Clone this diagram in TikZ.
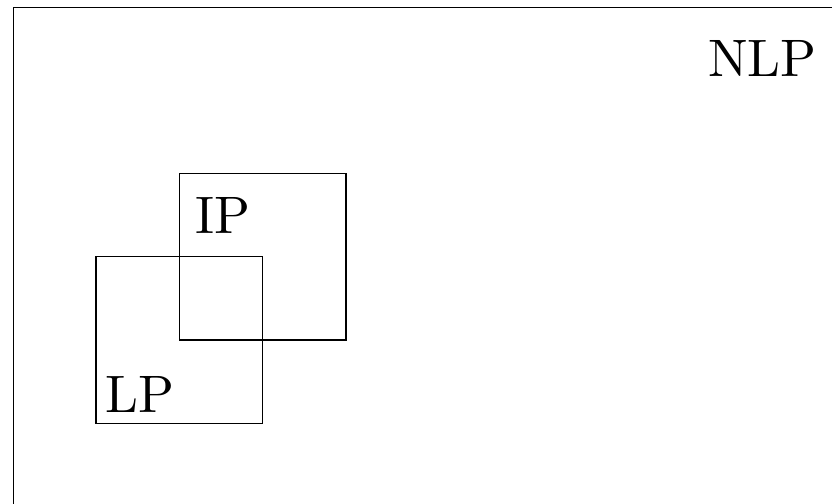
\documentclass[tikz,border=0pt]{standalone}
\begin{document}
\begin{tikzpicture}[
  box/.style={draw, line width=0.55pt},
  lbl/.style={anchor=base west, inner sep=0pt, scale=1.8, transform shape, font=\fontsize{10}{12}\selectfont}
]
\useasboundingbox (0,0) rectangle (9.984,6.036);
\clip (0,0) rectangle (9.984,6.036);
\draw[box] (0.162,-1) rectangle (11,5.946);
\draw[box] (1.152,0.956) rectangle (3.152,2.956);
\draw[box] (2.152,1.956) rectangle (4.152,3.956);
\node[lbl] (nlp) at (8.484,5.112) {NLP};
\node[lbl] (ip) at (2.328,3.228) {IP};
\node[lbl] (lp) at (1.248,1.092) {LP};
\end{tikzpicture}
\end{document}
